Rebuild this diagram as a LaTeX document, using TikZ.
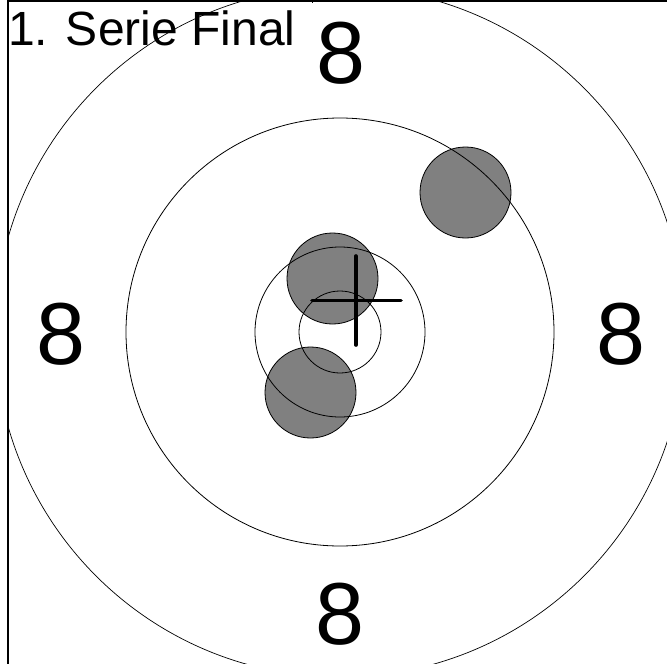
\documentclass[tikz,border=0pt]{standalone}
\usepackage{fontspec}
\setmainfont{Liberation Sans}
\begin{document}
\begin{tikzpicture}[x=1pt,y=-1pt,
  ring/.style={draw=black,line width=0.8pt},
  outerring/.style={draw=black,line width=0.7pt},
  shot/.style={fill=black!50,draw=black,line width=0.8pt},
  crossline/.style={line width=3.6pt,line cap=round},
  frameline/.style={line width=1.3pt},
  ringnum/.style={inner sep=0pt,font=\fontsize{88}{88}\selectfont},
  titletext/.style={inner sep=0pt,anchor=base west,font=\fontsize{48}{48}\selectfont}]
\useasboundingbox (0,0) rectangle (667,664);
\fill[white] (0,0) rectangle (667,664);
\coordinate (c) at (340,332);
% shots
\fill[shot] (465.5,192.5) circle (45.5);
\fill[shot] (332.5,278.5) circle (45.5);
\fill[shot] (310.5,392.5) circle (45.5);
% rings
\begin{scope}
  \clip (8,1) rectangle (700,700);
  \draw[outerring] (c) circle (345);
\end{scope}
\draw[ring] (c) circle (214);
\draw[ring] (c) circle (85);
\draw[ring] (c) circle (41);
% numbers
\node[ringnum] (n1) at (340.5,53) {8};
\node[ringnum] (n2) at (61,334) {8};
\node[ringnum] (n3) at (621,334) {8};
\node[ringnum] (n4) at (340,614) {8};
% title
\node[titletext] (title) at (8,45) {1. Serie Final};
% cross
\coordinate (hl) at (312,300.5);
\coordinate (hr) at (401,300.5);
\coordinate (vt) at (356,256);
\coordinate (vb) at (356,345);
\draw[crossline] (hl) -- (hr);
\draw[crossline] (vt) -- (vb);
% frame
\coordinate (fa) at (8,700);
\coordinate (fb) at (8,1);
\coordinate (fc) at (700,1);
\draw[frameline] (fa) -- (fb) -- (fc);
\coordinate (ta) at (312,0);
\coordinate (tb) at (312,3);
\draw[line width=0.8pt] (ta) -- (tb);
\end{tikzpicture}
\end{document}
